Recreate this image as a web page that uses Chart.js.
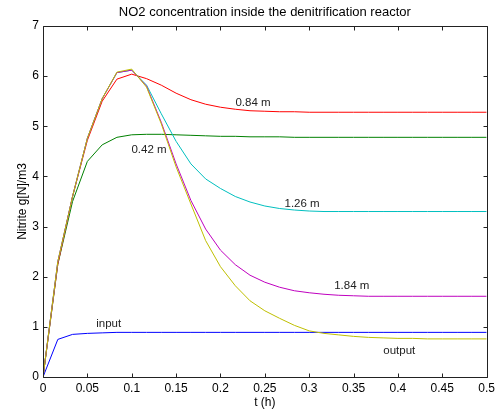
<!DOCTYPE html>
<html>
<head>
<meta charset="utf-8">
<script src="https://cdn.jsdelivr.net/npm/chart.js@4/dist/chart.umd.min.js"></script>
<style>
  html, body { margin: 0; padding: 0; background: #fff; }
</style>
</head>
<body>
<canvas id="chart" width="499" height="414"></canvas>
<script>
// time axis (h), sampled every minute
const t = [0, 0.0167, 0.0333, 0.05, 0.0667, 0.0833, 0.1, 0.1167, 0.1333, 0.15,
  0.1667, 0.1833, 0.2, 0.2167, 0.2333, 0.25, 0.2667, 0.2833, 0.3, 0.3167,
  0.3333, 0.35, 0.3667, 0.3833, 0.4, 0.4167, 0.4333, 0.45, 0.4667, 0.4833, 0.5];

// NO2 concentration g[N]/m3 at each position
const input = [0, 0.75, 0.85, 0.87, 0.88, 0.89, 0.89, 0.89, 0.89, 0.89,
  0.89, 0.89, 0.89, 0.89, 0.89, 0.89, 0.89, 0.89, 0.89, 0.89,
  0.89, 0.89, 0.89, 0.89, 0.89, 0.89, 0.89, 0.89, 0.89, 0.89, 0.89];
const m042 = [0, 2.25, 3.5, 4.3, 4.63, 4.78, 4.83, 4.84, 4.84, 4.83,
  4.82, 4.81, 4.8, 4.8, 4.79, 4.79, 4.79, 4.78, 4.78, 4.78,
  4.78, 4.78, 4.78, 4.78, 4.78, 4.78, 4.78, 4.78, 4.78, 4.78, 4.78];
const m084 = [0, 2.25, 3.6, 4.72, 5.5, 5.94, 6.04, 5.95, 5.82, 5.66,
  5.53, 5.44, 5.38, 5.34, 5.31, 5.3, 5.29, 5.29, 5.28, 5.28,
  5.28, 5.28, 5.28, 5.28, 5.28, 5.28, 5.28, 5.28, 5.28, 5.28, 5.28];
const m126 = [0, 2.3, 3.6, 4.76, 5.55, 6.07, 6.12, 5.82, 5.25, 4.7,
  4.25, 3.95, 3.76, 3.6, 3.49, 3.41, 3.36, 3.33, 3.31, 3.3,
  3.3, 3.3, 3.3, 3.3, 3.3, 3.3, 3.3, 3.3, 3.3, 3.3, 3.3];
const m184 = [0, 2.3, 3.6, 4.76, 5.55, 6.07, 6.12, 5.8, 5.08, 4.25,
  3.52, 2.95, 2.53, 2.24, 2.03, 1.89, 1.79, 1.72, 1.68, 1.65,
  1.63, 1.62, 1.61, 1.61, 1.61, 1.61, 1.61, 1.61, 1.61, 1.61, 1.61];
const output = [0, 2.3, 3.6, 4.76, 5.55, 6.08, 6.14, 5.78, 5.05, 4.19,
  3.45, 2.72, 2.2, 1.82, 1.52, 1.32, 1.17, 1.03, 0.92, 0.87,
  0.84, 0.81, 0.79, 0.78, 0.77, 0.77, 0.76, 0.76, 0.76, 0.76, 0.76];

const xTicks = [0, 0.05, 0.1, 0.15, 0.2, 0.25, 0.3, 0.35, 0.4, 0.45, 0.5];
const yTicks = [0, 1, 2, 3, 4, 5, 6, 7];

// text placed next to the curves (data coordinates)
const notes = [
  { text: '0.84 m', t: 0.2367, v: 5.47 },
  { text: '0.42 m', t: 0.1195, v: 4.53 },
  { text: '1.26 m', t: 0.292, v: 3.46 },
  { text: '1.84 m', t: 0.348, v: 1.81 },
  { text: 'input', t: 0.074, v: 1.06 },
  { text: 'output', t: 0.4015, v: 0.53 }
];

const series = [
  { name: 'input', data: input, color: '#0000ff' },
  { name: '0.42 m', data: m042, color: '#008000' },
  { name: '0.84 m', data: m084, color: '#ff0000' },
  { name: '1.26 m', data: m126, color: '#00bfbf' },
  { name: '1.84 m', data: m184, color: '#bf00bf' },
  { name: 'output', data: output, color: '#bfbf00' }
];

const FONT = '"Liberation Sans", Arial, Helvetica, sans-serif';
Chart.defaults.font.family = FONT;
Chart.defaults.font.size = 12;
Chart.defaults.color = '#000';

// box around the plot with inward ticks on all four sides, plus curve labels
const matlabFrame = {
  id: 'matlabFrame',
  afterDraw(chart) {
    const { ctx, chartArea: a, scales: { x, y } } = chart;
    const L = Math.round(a.left) + 0.5, R = Math.round(a.right) + 0.5;
    const T = Math.round(a.top) + 0.5, B = Math.round(a.bottom) + 0.5;
    ctx.save();
    ctx.strokeStyle = '#222';
    ctx.lineWidth = 1;
    ctx.beginPath();
    ctx.rect(L, T, R - L, B - T);
    xTicks.forEach(v => {
      const px = Math.round(x.getPixelForValue(v)) + 0.5;
      ctx.moveTo(px, B); ctx.lineTo(px, B - 4);
      ctx.moveTo(px, T); ctx.lineTo(px, T + 4);
    });
    yTicks.forEach(v => {
      const py = Math.round(y.getPixelForValue(v)) + 0.5;
      ctx.moveTo(L, py); ctx.lineTo(L + 4, py);
      ctx.moveTo(R, py); ctx.lineTo(R - 4, py);
    });
    ctx.stroke();

    ctx.fillStyle = '#222';
    ctx.font = '11.5px ' + FONT;
    ctx.textAlign = 'center';
    ctx.textBaseline = 'middle';
    notes.forEach(n => {
      ctx.fillText(n.text, x.getPixelForValue(n.t), y.getPixelForValue(n.v));
    });
    ctx.restore();
  }
};

new Chart(document.getElementById('chart'), {
  type: 'line',
  data: {
    labels: t,
    datasets: series.map((s, i) => ({
      label: s.name,
      data: s.data.map((v, k) => ({ x: t[k], y: v })),
      borderColor: s.color,
      borderWidth: 1,
      pointRadius: 0,
      tension: 0,
      fill: false,
      order: series.length - i
    }))
  },
  options: {
    responsive: false,
    animation: false,
    events: [],
    layout: { padding: { left: 0, right: 11, top: 0, bottom: 0 } },
    plugins: {
      legend: { display: false },
      tooltip: { enabled: false },
      title: {
        display: true,
        fullSize: false,
        text: 'NO2 concentration inside the denitrification reactor',
        color: '#000',
        font: { size: 13, weight: 'normal' },
        padding: { top: 5, bottom: 5.4 }
      }
    },
    scales: {
      x: {
        type: 'linear',
        min: 0,
        max: 0.5,
        afterBuildTicks: s => { s.ticks = xTicks.map(v => ({ value: v })); },
        afterFit: s => { s.height = 37; },
        grid: { display: false, drawTicks: false },
        border: { display: false },
        ticks: { padding: 4, maxRotation: 0, autoSkip: false, callback: v => String(v) },
        title: { display: true, text: 't (h)', padding: { top: 0, bottom: 4 } }
      },
      y: {
        type: 'linear',
        min: 0,
        max: 7,
        afterBuildTicks: s => { s.ticks = yTicks.map(v => ({ value: v })); },
        afterFit: s => { s.width = 43; },
        grid: { display: false, drawTicks: false },
        border: { display: false },
        ticks: { padding: 4, autoSkip: false, callback: v => String(v) },
        title: { display: true, text: 'Nitrite g[N]/m3', padding: { top: 15, bottom: 0 } }
      }
    }
  },
  plugins: [matlabFrame]
});
</script>
</body>
</html>
